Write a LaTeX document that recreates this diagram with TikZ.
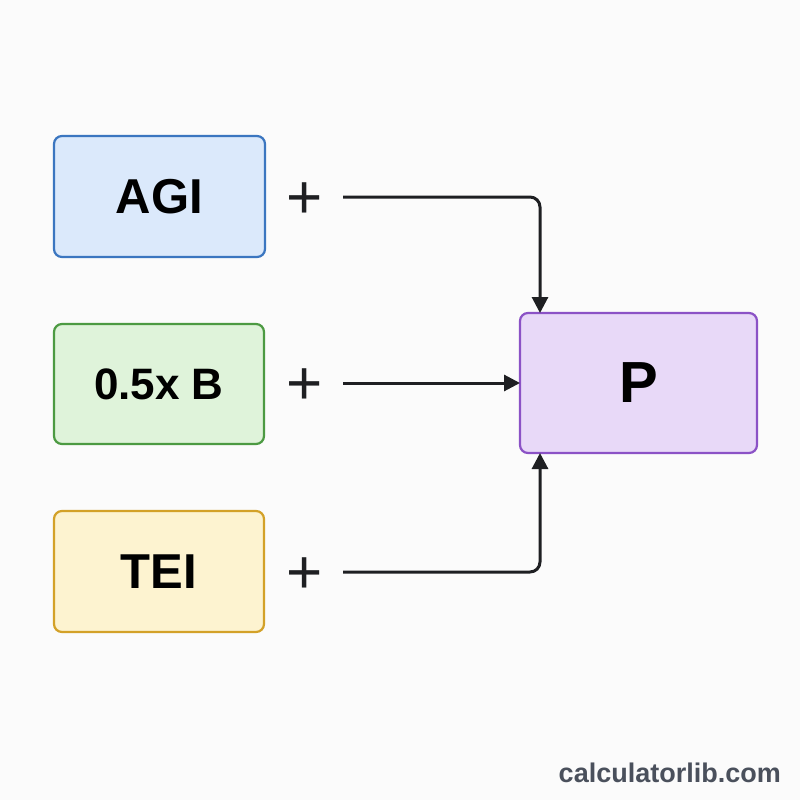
\documentclass[tikz,border=0pt]{standalone}
\usepackage{fontspec}
\setmainfont{Liberation Sans}
\usetikzlibrary{arrows.meta}
\definecolor{bluefill}{HTML}{DBE9FB}
\definecolor{blueline}{HTML}{3B76C0}
\definecolor{greenfill}{HTML}{DFF3DA}
\definecolor{greenline}{HTML}{4C9A42}
\definecolor{yellowfill}{HTML}{FDF3D0}
\definecolor{yellowline}{HTML}{D3A128}
\definecolor{purplefill}{HTML}{E8D9F8}
\definecolor{purpleline}{HTML}{8B52C6}
\definecolor{arrowcol}{HTML}{1E1F22}
\definecolor{markcol}{HTML}{4A505C}
\definecolor{bgcol}{HTML}{FBFBFB}
\tikzset{
  box/.style={draw, rounded corners=8pt, line width=2.2pt, inner sep=0pt, outer sep=0pt,
    minimum width=211pt, minimum height=121pt, font=\fontsize{49}{52}\selectfont\bfseries, text=black},
  plussign/.style={inner sep=0pt, font=\fontsize{62}{62}\selectfont, text=arrowcol},
  conn/.style={draw=arrowcol, line width=3pt, rounded corners=10pt,
    -{Triangle[length=16pt,width=16pt]}},
}
\begin{document}
\begin{tikzpicture}[x=1pt,y=-1pt]
\fill[bgcol] (0,0) rectangle (800,800);
\useasboundingbox (0,0) rectangle (800,800);
\node[box, fill=bluefill, draw=blueline] (agi) at (159.5,196.5) {AGI};
\node[box, fill=greenfill, draw=greenline, minimum width=210pt, minimum height=120pt, font=\fontsize{44}{48}\selectfont\bfseries] (b) at (159,384) {0.5x B};
\node[box, fill=yellowfill, draw=yellowline, minimum width=210pt] (tei) at (159,571.5) {TEI};
\node[box, fill=purplefill, draw=purpleline, minimum width=237pt, minimum height=140pt, font=\fontsize{58}{60}\selectfont\bfseries] (p) at (638.5,383) {P};
\node[plussign] (plus1) at (305,201) {+};
\node[plussign] (plus2) at (305,387) {+};
\node[plussign] (plus3) at (305,576) {+};
\coordinate (s1) at (343,197);
\coordinate (s2) at (343,383);
\coordinate (s3) at (343,572);
\draw[conn] (s1) -| ([xshift=20pt]p.north west);
\draw[conn] (s2) -- (s2 -| p.west);
\draw[conn] (s3) -| ([xshift=20pt]p.south west);
\node[anchor=base east, inner sep=0pt, text=markcol, font=\fontsize{27}{30}\selectfont\bfseries] (mark) at (781,782) {calculatorlib.com};
\end{tikzpicture}
\end{document}
